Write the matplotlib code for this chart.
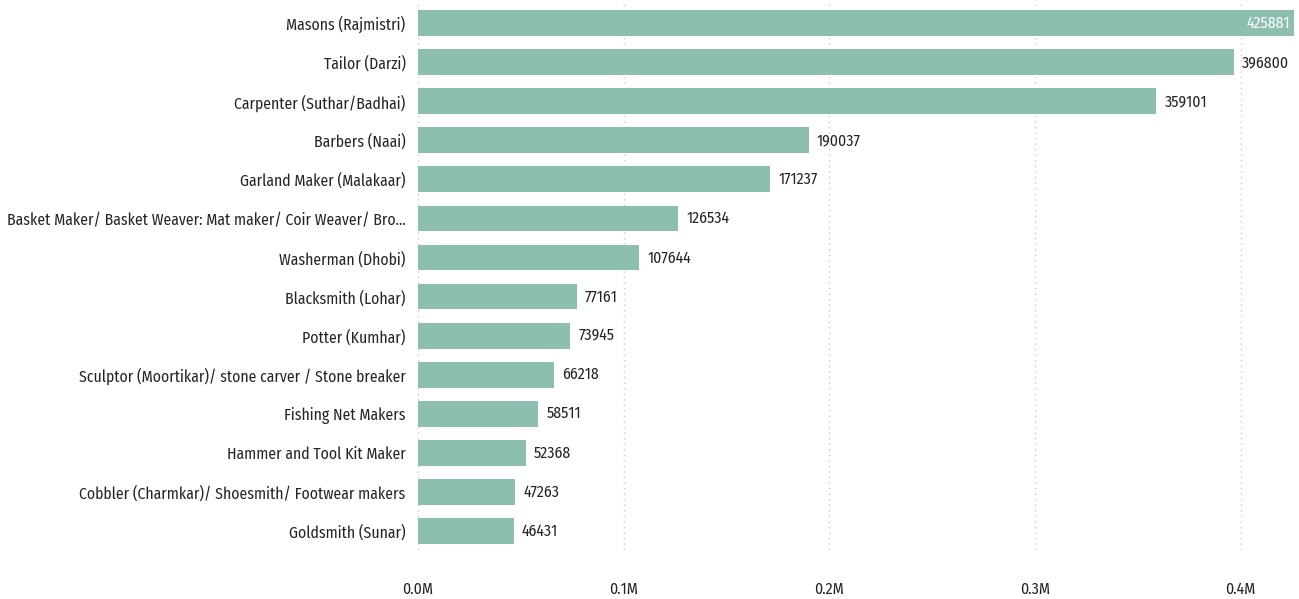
import matplotlib
matplotlib.use("Agg")
import matplotlib.pyplot as plt
from matplotlib.ticker import FuncFormatter

categories = [
    "Masons (Rajmistri)",
    "Tailor (Darzi)",
    "Carpenter (Suthar/Badhai)",
    "Barbers (Naai)",
    "Garland Maker (Malakaar)",
    "Basket Maker/ Basket Weaver: Mat maker/ Coir Weaver/ Bro...",
    "Washerman (Dhobi)",
    "Blacksmith (Lohar)",
    "Potter (Kumhar)",
    "Sculptor (Moortikar)/ stone carver / Stone breaker",
    "Fishing Net Makers",
    "Hammer and Tool Kit Maker",
    "Cobbler (Charmkar)/ Shoesmith/ Footwear makers",
    "Goldsmith (Sunar)",
]
values = [425881, 396800, 359101, 190037, 171237, 126534, 107644,
          77161, 73945, 66218, 58511, 52368, 47263, 46431]
xticks = [0, 100000, 200000, 300000, 400000]

plt.rcParams['font.family'] = ["Fira Sans Condensed", "DejaVu Sans"]
TXT = "#252423"
BAR = "#8DBFB1"

fig = plt.figure(figsize=(12.99, 5.99), dpi=100)
ax = fig.add_axes([0.3218, 0.081, 0.997 - 0.3218, 0.994 - 0.081])

y = list(range(len(categories)))
ax.barh(y, values, height=0.66, color=BAR, zorder=2)
ax.set_ylim(len(categories) - 0.5, -0.5)
ax.set_xlim(0, 426500)
ax.set_yticks(y)
ax.set_yticklabels(categories, fontsize=12, color=TXT)
ax.set_xticks(xticks)
ax.xaxis.set_major_formatter(FuncFormatter(lambda v, p: f"{v/1e6:.1f}M"))
ax.tick_params(axis='x', labelsize=12, colors=TXT, length=0, pad=22)
ax.tick_params(axis='y', length=0, pad=9)
ax.grid(axis='x', color="#C8C8C8", linestyle=(0, (1, 3)), linewidth=1, zorder=0)
for s in ax.spines.values():
    s.set_visible(False)

# fit label font size so the longest label spans ~400 px
fig.canvas.draw()
r = fig.canvas.get_renderer()
longest = max(ax.get_yticklabels(), key=lambda t: t.get_window_extent(r).width)
w = longest.get_window_extent(r).width
fs = 12 * 400.0 / w
ax.tick_params(axis='y', labelsize=fs)
ax.tick_params(axis='x', labelsize=fs)

xmax = ax.get_xlim()[1]
for yi, v in zip(y, values):
    if v > xmax * 0.97:
        ax.text(v - 2000, yi, f"{v}", ha='right', va='center', fontsize=fs, color="white", zorder=3)
    else:
        ax.text(v + 4000, yi, f"{v}", ha='left', va='center', fontsize=fs, color=TXT, zorder=3)

fig.savefig("out.png", dpi=100)
